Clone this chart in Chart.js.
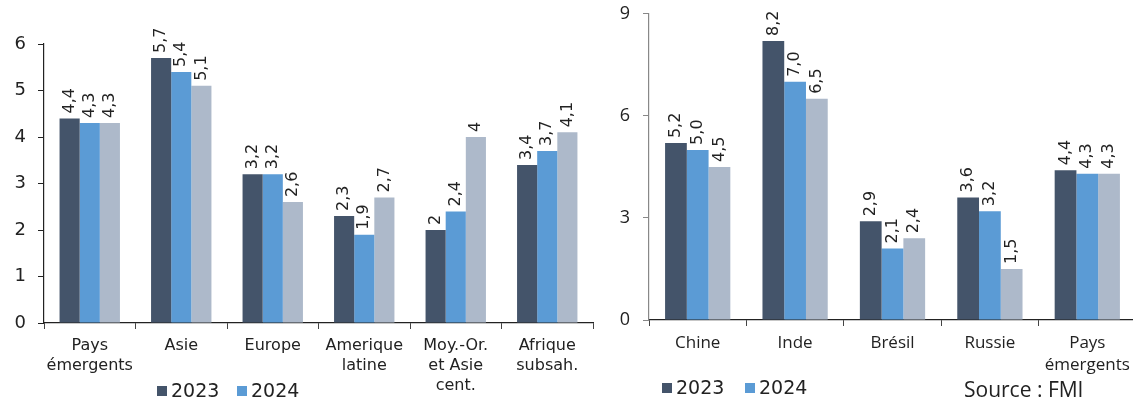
<!DOCTYPE html>
<html>
<head>
<meta charset="utf-8">
<script src="https://cdn.jsdelivr.net/npm/chart.js@4"></script>
<style>
  html, body { margin: 0; padding: 0; background: #fff; overflow: hidden; }
  body { width: 1133px; height: 400px; position: relative; }
  .box { position: absolute; top: 0; height: 400px; }
  .leg { position: absolute; color: #222; font-size: 19px; line-height: 20px; white-space: nowrap; }
  .leg i { display: inline-block; width: 10px; height: 10px; margin-right: 4px; vertical-align: 1px; }
</style>
</head>
<body>
<div class="box" style="left:0;width:600px"><canvas id="chartLeft"></canvas></div>
<div class="box" style="left:600px;top:-10px;width:540px;height:410px"><canvas id="chartRight"></canvas></div>

<div class="leg" style="left:157px;top:380px;font-family:'DejaVu Sans'"><i style="background:#44546A"></i>2023</div>
<div class="leg" style="left:237px;top:380px;font-family:'DejaVu Sans'"><i style="background:#5B9BD5"></i>2024</div>
<div class="leg" style="left:662px;top:377px;font-family:'DejaVu Sans'"><i style="background:#44546A"></i>2023</div>
<div class="leg" style="left:745px;top:377px;font-family:'DejaVu Sans'"><i style="background:#5B9BD5"></i>2024</div>
<div class="leg" style="left:964px;top:379px;font-family:'Open Sans';font-size:21px">Source : FMI</div>

<script>
// zones (graphique de gauche)
const zones = [['Pays', 'émergents'], 'Asie', 'Europe', ['Amerique', 'latine'], ['Moy.-Or.', 'et Asie', 'cent.'], ['Afrique', 'subsah.']];
const zones2023 = [4.4, 5.7, 3.2, 2.3, 2.0, 3.4];
const zones2024 = [4.3, 5.4, 3.2, 1.9, 2.4, 3.7];
const zones2025 = [4.3, 5.1, 2.6, 2.7, 4.0, 4.1];
const zonesTicks = [0, 1, 2, 3, 4, 5, 6];

// pays (graphique de droite)
const pays = ['Chine', 'Inde', 'Brésil', 'Russie', ['Pays', 'émergents']];
const pays2023 = [5.2, 8.2, 2.9, 3.6, 4.4];
const pays2024 = [5.0, 7.0, 2.1, 3.2, 4.3];
const pays2025 = [4.5, 6.5, 2.4, 1.5, 4.3];
const paysTicks = [0, 3, 6, 9];

const colors = ['#44546A', '#5B9BD5', '#ADB9CA'];

function valueLabels(font, format) {
  return {
    id: 'valueLabels',
    afterDatasetsDraw(chart) {
      const ctx = chart.ctx;
      ctx.save();
      ctx.font = font;
      ctx.fillStyle = '#222';
      ctx.textAlign = 'left';
      ctx.textBaseline = 'middle';
      chart.data.datasets.forEach((ds, i) => {
        chart.getDatasetMeta(i).data.forEach((bar, j) => {
          ctx.save();
          ctx.translate(bar.x, bar.y - 5);
          ctx.rotate(-Math.PI / 2);
          ctx.fillText(format(ds.data[j]), 0, 0);
          ctx.restore();
        });
      });
      ctx.restore();
    }
  };
}

function makeChart(id, opts) {
  return new Chart(document.getElementById(id), {
    type: 'bar',
    data: {
      labels: opts.labels,
      datasets: opts.series.map((s, i) => ({
        label: String(2023 + i),
        data: s,
        backgroundColor: colors[i],
        borderWidth: 0,
        categoryPercentage: opts.catPct,
        barPercentage: 1
      }))
    },
    options: {
      responsive: true,
      maintainAspectRatio: false,
      animation: false,
      layout: { padding: opts.padding },
      plugins: { legend: { display: false }, tooltip: { enabled: false } },
      scales: {
        x: {
          afterFit: s => { s.height = opts.xHeight; },
          border: { display: true, color: '#222', width: 1.2 },
          grid: { display: true, drawOnChartArea: false, drawTicks: true, tickLength: 6, offset: true, color: '#444' },
          ticks: { color: '#222', font: { family: opts.tickFont, size: opts.xFontSize, lineHeight: 1.25 }, padding: 7, maxRotation: 0, autoSkip: false }
        },
        y: {
          min: 0,
          max: opts.ticks[opts.ticks.length - 1],
          afterFit: s => { s.width = opts.yWidth; },
          afterBuildTicks: s => { s.ticks = opts.ticks.map(v => ({ value: v })); },
          border: { display: true, color: opts.yAxisColor, width: 1.2 },
          grid: { display: true, drawOnChartArea: false, drawTicks: true, tickLength: 6, color: opts.yAxisColor },
          ticks: { color: '#222', font: { family: opts.tickFont, size: opts.yFontSize }, padding: opts.yPad }
        }
      }
    },
    plugins: [valueLabels(opts.valueFont, opts.format)]
  });
}

makeChart('chartLeft', {
  labels: zones,
  series: [zones2023, zones2024, zones2025],
  ticks: zonesTicks,
  catPct: 0.66,
  padding: { top: 44, right: 7, bottom: 0, left: 0 },
  xHeight: 77,
  yWidth: 44,
  yAxisColor: '#222',
  tickFont: 'DejaVu Sans',
  xFontSize: 16,
  yFontSize: 18,
  yPad: 12,
  valueFont: '16px "DejaVu Sans"',
  format: v => String(v).replace('.', ',')
});

makeChart('chartRight', {
  labels: pays,
  series: [pays2023, pays2024, pays2025],
  ticks: paysTicks,
  catPct: 0.67,
  padding: { top: 2, right: 4, bottom: 0, left: 0 },
  xHeight: 80,
  yWidth: 49,
  yAxisColor: '#888',
  tickFont: 'Open Sans',
  xFontSize: 17,
  yFontSize: 18,
  yPad: 13,
  valueFont: '16px "DejaVu Sans"',
  format: v => v.toFixed(1).replace('.', ',')
});
</script>
</body>
</html>
